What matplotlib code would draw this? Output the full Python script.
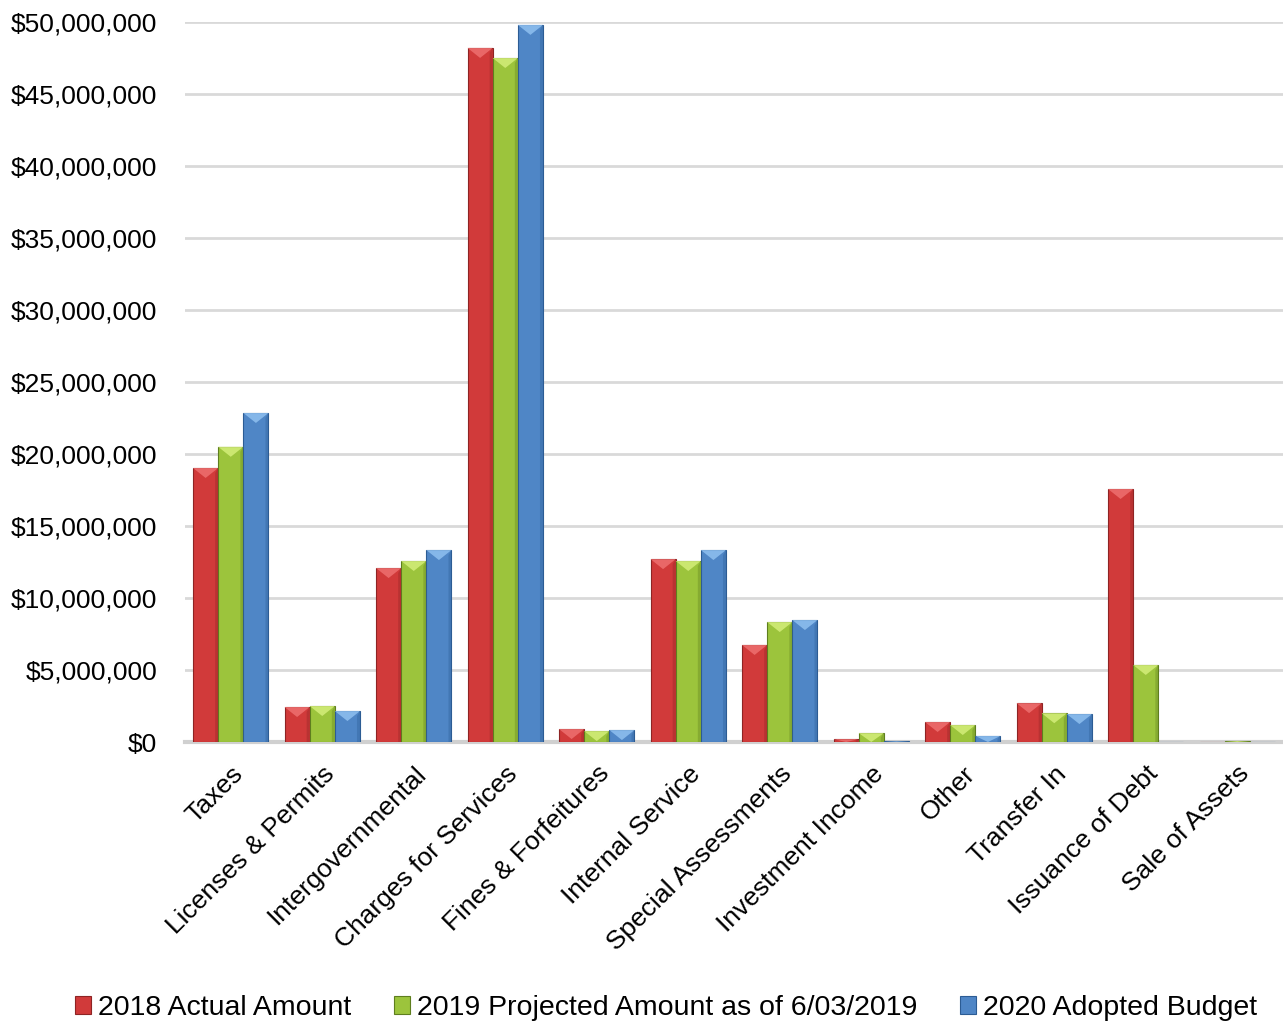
import matplotlib.pyplot as plt
import numpy as np
from matplotlib.patches import Polygon
from matplotlib.ticker import FuncFormatter

plt.rcParams['font.family'] = ['Liberation Sans', 'DejaVu Sans']

categories = ['Taxes', 'Licenses & Permits', 'Intergovernmental', 'Charges for Services',
              'Fines & Forfeitures', 'Internal Service', 'Special Assessments',
              'Investment Income', 'Other', 'Transfer In', 'Issuance of Debt', 'Sale of Assets']

actual_2018 = [19030000, 2430000, 12080000, 48200000, 900000, 12700000, 6740000,
               200000, 1390000, 2700000, 17570000, 0]
projected_2019 = [20500000, 2500000, 12570000, 47500000, 760000, 12570000, 8330000,
                  620000, 1180000, 2000000, 5350000, 70000]
adopted_2020 = [22850000, 2150000, 13330000, 49800000, 830000, 13330000, 8470000,
                50000, 420000, 1940000, 0, 0]

series_names = ['2018 Actual Amount', '2019 Projected Amount as of 6/03/2019', '2020 Adopted Budget']
# (face, dark edge, light bevel)
palette = [('#D13A3A', '#8E2424', '#EE7070'),
           ('#9CC43C', '#5E7E1E', '#D4EE7A'),
           ('#4F86C6', '#2C5C94', '#8FC0F0')]

fig = plt.figure(figsize=(12.83, 10.24), dpi=100)
ax = fig.add_axes([185 / 1283, 1 - 742 / 1024, 1098 / 1283, 720 / 1024])

x = np.arange(len(categories))
w = 0.275
ymax = 50000000
bevel = ymax / 720 * 10

for i, vals in enumerate([actual_2018, projected_2019, adopted_2020]):
    face, dark, light = palette[i]
    bars = ax.bar(x + (i - 1) * w, vals, w, color=face, edgecolor=dark, linewidth=0.8,
                  label=series_names[i], zorder=3)
    for b in bars:
        h = b.get_height()
        if h <= 0:
            continue
        x0 = b.get_x()
        x1 = x0 + b.get_width()
        d = min(bevel, h)
        tri = Polygon([[x0, h], [x1, h], [(x0 + x1) / 2, h - d]], closed=True,
                      facecolor=light, edgecolor='none', alpha=0.85, zorder=4)
        ax.add_patch(tri)
        # darker right side strip
        ax.add_patch(Polygon([[x1 - b.get_width() * 0.12, h - d * 0.5], [x1, h], [x1, 0],
                              [x1 - b.get_width() * 0.12, 0]], closed=True,
                             facecolor=dark, edgecolor='none', alpha=0.35, zorder=4))

ax.set_xlim(-0.5, len(categories) - 0.5)
ax.set_ylim(0, ymax)
ax.set_yticks(np.arange(0, ymax + 1, 5000000))
ax.yaxis.set_major_formatter(FuncFormatter(lambda v, p: '${:,.0f}'.format(v)))
ax.grid(axis='y', color='#D9D9D9', linewidth=2, zorder=0)
for s in ['top', 'right', 'left']:
    ax.spines[s].set_visible(False)
ax.spines['bottom'].set_color('#D0D0D0')
ax.spines['bottom'].set_linewidth(3)
ax.tick_params(axis='both', length=0, labelsize=19)
ax.tick_params(axis='y', pad=20)
ax.set_xticks(x)
ax.set_xticklabels(categories, rotation=45, ha='right', rotation_mode='anchor')
ax.tick_params(axis='x', pad=14)

handles, labels = ax.get_legend_handles_labels()
fig.legend(handles, labels, loc='center', bbox_to_anchor=(666 / 1283, 1 - 1008 / 1024), ncol=3,
           frameon=False, fontsize=20.5, handlelength=0.55, handleheight=0.55,
           handletextpad=0.25, columnspacing=1.5)

fig.savefig('out.png', dpi=100)
